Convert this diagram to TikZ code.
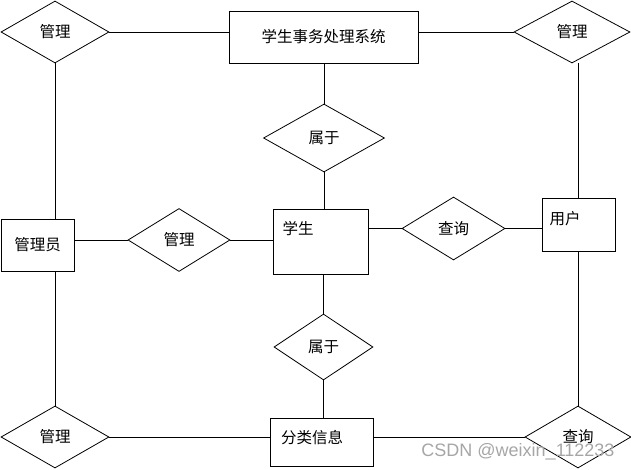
\documentclass[tikz,border=0pt]{standalone}
\usepackage{fontspec}
\setmainfont{Noto Sans CJK SC}
\newfontfamily\markfont{Liberation Sans}
\usetikzlibrary{shapes.geometric}

\begin{document}
\begin{tikzpicture}[x=1pt,y=-1pt,line width=0.8pt,
	font=\fontsize{15.5pt}{18pt}\selectfont,
	ent/.style={draw,rectangle,inner sep=0pt},
	rel/.style={draw,diamond,inner sep=0pt}]
		\useasboundingbox (0,0) rectangle (631,470);
		
		\node[rel,minimum width=108,minimum height=62] (G1) at (55,32) {管理};
		\node[ent,minimum width=189,minimum height=52] (Sys) at (323.5,37) {学生事务处理系统};
		\node[rel,minimum width=116,minimum height=62] (G2) at (572,32) {管理};
		
		\node[rel,minimum width=121,minimum height=68] (B1) at (324,138) {属于};
		
		\node[ent,minimum width=73,minimum height=52] (Adm) at (37.5,245) {管理员};
		\node[rel,minimum width=102,minimum height=63] (G3) at (179,240) {管理};
		\node[ent,minimum width=95,minimum height=65] (Stu) at (320.5,241.5) {};
		\node (StuT) at (298,229) {学生};
		\node[rel,minimum width=103,minimum height=63] (Q1) at (453.5,228.5) {查询};
		\node[ent,minimum width=73,minimum height=53] (User) at (578.5,224.5) {};
		\node (UserT) at (565,219) {用户};
		
		\node[rel,minimum width=99,minimum height=66] (B2) at (323.5,347) {属于};
		
		\node[rel,minimum width=108,minimum height=62] (G4) at (55,437) {管理};
		\node[ent,minimum width=103,minimum height=48] (Cls) at (321.5,442) {};
		\node (ClsT) at (312,438) {分类信息};
		\node[rel,minimum width=106,minimum height=62] (Q2) at (578,437) {查询};
		
		\node[text=gray!70,font=\markfont\fontsize{18pt}{21pt}\selectfont] (Mark) at (518,452) {CSDN @weixin\_112233};
		%
		\path
		(G1.east) edge (G1.east -| Sys.west)
		(G2.west -| Sys.east) edge (G2.west)
		(B1.north |- Sys.south) edge (B1.north)
		(B1.south) edge (B1.south |- Stu.north)
		(G1.south) edge (G1.south |- Adm.north)
		(Adm.east |- G3.west) edge (G3.west)
		(G3.east) edge (G3.east -| Stu.west)
		(Q1.west -| Stu.east) edge (Q1.west)
		(Q1.east) edge (Q1.east -| User.west)
		(User.north |- G2.south) edge (User.north)
		(Adm.south -| G4.north) edge (G4.north)
		(B2.north |- Stu.south) edge (B2.north)
		(B2.south) edge (B2.south |- Cls.north)
		(G4.east) edge (G4.east -| Cls.west)
		(Cls.east |- Q2.west) edge (Q2.west)
		(User.south) edge (User.south |- Q2.north);
\end{tikzpicture}
\end{document}
